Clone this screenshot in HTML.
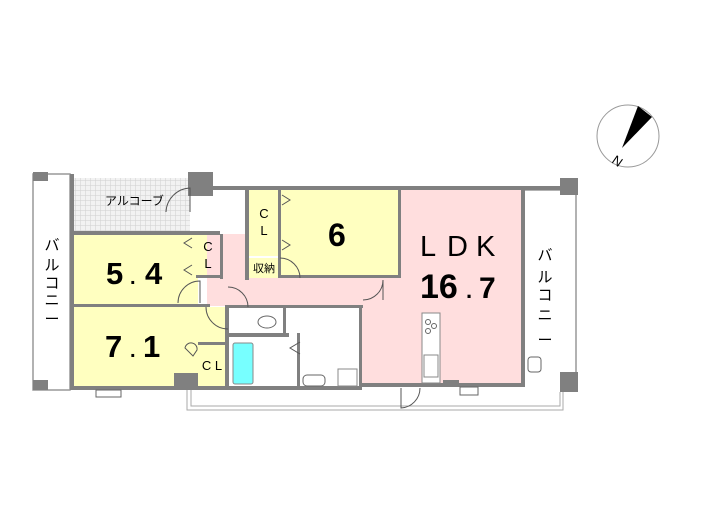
<!DOCTYPE html>
<html><head><meta charset="utf-8"><style>
html,body{margin:0;padding:0;background:#fff;}
svg{display:block;}
text{font-family:"Liberation Sans","Noto Sans CJK JP",sans-serif;}
</style></head><body>
<svg width="705" height="505" viewBox="0 0 705 505" xmlns="http://www.w3.org/2000/svg">
<defs>
<pattern id="grid" width="5" height="5" patternUnits="userSpaceOnUse">
<rect width="5" height="5" fill="#f2f2f2"/>
<path d="M0 0H5M0 0V5" stroke="#cfcfcf" stroke-width="1"/>
</pattern>
</defs>
<!-- compass -->
<circle cx="628" cy="136" r="31" fill="#fff" stroke="#999" stroke-width="1"/>
<polygon points="638,106 652,117 622,148" fill="#000"/>
<text x="0" y="0" font-size="13" font-family="Liberation Serif,serif" transform="translate(611,162) rotate(35)">N</text>

<!-- balconies outlines -->
<rect x="33" y="174" width="37" height="216" fill="#fff" stroke="#999" stroke-width="1.5"/>
<path d="M523 190 H576 V390" fill="none" stroke="#999" stroke-width="1.5"/>
<path d="M187 388 V410 H563 V392" fill="none" stroke="#aaa" stroke-width="1"/>
<path d="M191 388 V406 H560 V392" fill="none" stroke="#aaa" stroke-width="1"/>

<!-- rooms fill -->
<rect x="74" y="178" width="116" height="53" fill="url(#grid)"/>
<rect x="72" y="234" width="126" height="70" fill="#ffffc0"/>
<rect x="196" y="234" width="24" height="43" fill="#ffffc0"/>
<rect x="72" y="307" width="155" height="81" fill="#ffffc0"/>
<rect x="198" y="345" width="28" height="43" fill="#ffffc0"/>
<rect x="360" y="188" width="163" height="197" fill="#ffdede"/>
<rect x="207" y="234" width="41" height="72" fill="#ffdede"/>
<rect x="207" y="278" width="153" height="28" fill="#ffdede"/>
<rect x="249" y="190" width="30" height="66" fill="#ffffc0"/>
<rect x="249" y="258" width="30" height="20" fill="#ffffc0"/>
<rect x="280" y="190" width="118" height="87" fill="#ffffc0"/>
<rect x="233" y="343" width="20" height="41" fill="#7ff" stroke="#888" stroke-width="1" rx="2"/>

<!-- walls -->
<g fill="#808080">
<rect x="70" y="174" width="4" height="216"/>
<rect x="70" y="386" width="290" height="4"/>
<rect x="360" y="383" width="165" height="4"/>
<rect x="70" y="231" width="150" height="4"/>
<rect x="70" y="304" width="140" height="3"/>
<rect x="213" y="186" width="362" height="4"/>
<rect x="521" y="186" width="4" height="201"/>
<rect x="245" y="190" width="4" height="90"/>
<rect x="278" y="190" width="3" height="88"/>
<rect x="398" y="188" width="3" height="90"/>
<rect x="280" y="275" width="120" height="3"/>
<rect x="220" y="234" width="3" height="45"/>
<rect x="196" y="275" width="27" height="3"/>
<rect x="225" y="305" width="138" height="3"/>
<rect x="225" y="305" width="4" height="85"/>
<rect x="229" y="333" width="60" height="4"/>
<rect x="283" y="307" width="3" height="30"/>
<rect x="297" y="333" width="3" height="55"/>
<rect x="359" y="305" width="3" height="85"/>
<rect x="198" y="342" width="30" height="3"/>
<rect x="33" y="172" width="15" height="9"/>
<rect x="33" y="380" width="15" height="10"/>
<rect x="188" y="172" width="25" height="24"/>
<rect x="174" y="373" width="24" height="17"/>
<rect x="560" y="178" width="18" height="17"/>
<rect x="560" y="372" width="18" height="20"/>
<rect x="443" y="380" width="16" height="7"/>
</g>
<!-- windows -->
<rect x="96" y="390" width="25" height="7" fill="#fff" stroke="#666"/>
<rect x="460" y="387" width="18" height="8" fill="#fff" stroke="#666"/>
<!-- doors -->
<g fill="none" stroke="#555" stroke-width="1">
<path d="M166 212 A25 25 0 0 1 190 188 V212"/>
<path d="M178 303 A22 22 0 0 1 200 281 V303"/>
<path d="M228 287 A20 20 0 0 1 248 307"/>
<path d="M206 307 A22 22 0 0 0 228 329"/>
<path d="M280 258 A20 20 0 0 1 300 278"/>
<path d="M363 300 A20 20 0 0 0 383 280 V300"/>
<path d="M401 388 V408 A20 20 0 0 0 420 388"/>
<path d="M282 195 l8 5 l-8 5 M282 240 l8 5 l-8 5 M192 238 l-8 5 l8 5 M192 265 l-8 5 l8 5 M300 342 l-10 6 l10 6"/>
<path d="M185 348 a6 6 0 0 1 12 2 l-4 6 z"/>
</g>
<!-- kitchen -->
<rect x="422" y="313" width="18" height="70" fill="#fff" stroke="#888"/>
<circle cx="428" cy="322" r="2.5" fill="none" stroke="#666"/><circle cx="434" cy="326" r="2.5" fill="none" stroke="#666"/><circle cx="428" cy="331" r="2.5" fill="none" stroke="#666"/>
<rect x="424" y="355" width="14" height="22" fill="#fff" stroke="#888"/>
<rect x="528" y="357" width="13" height="15" fill="#fff" stroke="#666" rx="3"/>
<!-- toilet/wash -->
<ellipse cx="267" cy="322" rx="9" ry="6" fill="#fff" stroke="#666"/>
<rect x="303" y="375" width="22" height="11" fill="#fff" stroke="#666" rx="4"/>
<rect x="338" y="369" width="19" height="17" fill="#fff" stroke="#888"/>

<!-- labels -->
<text x="105" y="205" font-size="12">アルコーブ</text>
<g font-size="15" text-anchor="middle">
<text x="52" y="250">バ</text><text x="52" y="270">ル</text><text x="52" y="288">コ</text><text x="52" y="305">ニ</text><text x="52" y="324">ー</text>
<text x="545" y="260">バ</text><text x="545" y="282">ル</text><text x="545" y="300">コ</text><text x="545" y="320">ニ</text><text x="545" y="345">ー</text>
</g>
<g font-size="13" text-anchor="middle">
<text x="208" y="251">C</text><text x="208" y="268">L</text>
<text x="264" y="218">C</text><text x="264" y="235">L</text>
<text x="212" y="370">C L</text>
</g>
<text x="264" y="272" font-size="11" text-anchor="middle">収納</text>
<g font-weight="bold" font-size="31">
<text x="106" y="284">5</text><text x="130" y="284" font-size="20">.</text><text x="145" y="284">4</text>
<text x="105" y="357">7</text><text x="130" y="357" font-size="20">.</text><text x="143" y="357">1</text>
<text x="328" y="246" font-size="32">6</text>
</g>
<text x="420" y="256" font-size="29">L</text><text x="447" y="256" font-size="29">D</text><text x="476" y="256" font-size="29">K</text>
<text x="420" y="298" font-size="34" font-weight="bold">16</text><text x="466" y="298" font-size="22" font-weight="bold">.</text><text x="479" y="298" font-size="30" font-weight="bold">7</text>
</svg>
</body></html>
